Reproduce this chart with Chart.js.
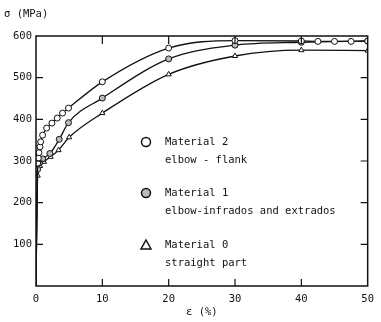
<!DOCTYPE html>
<html>
<head>
<meta charset="utf-8">
<script src="https://cdn.jsdelivr.net/npm/chart.js@4/dist/chart.umd.min.js"></script>
<style>
  html, body { margin: 0; padding: 0; background: #fff; }
  #wrap { width: 381px; height: 322px; position: relative; }
</style>
</head>
<body>
<div id="wrap"><canvas id="chart"></canvas></div>
<script>
// strain (%) / stress (MPa)
const strain2 = [0, 0.1, 0.25, 0.35, 0.45, 0.6, 0.7, 1.0, 1.6, 2.4, 3.2, 4.0, 4.9, 10, 20, 30, 40, 42.5, 45, 47.5, 50];
const stress2 = [0, 150, 295, 307, 320, 334, 346, 362, 379, 391, 403, 415, 427, 490, 571, 589, 588, 587, 587, 587, 588];

const strain1 = [0, 0.1, 0.25, 0.5, 1.0, 2.1, 3.5, 4.9, 10, 20, 30, 40, 50];
const stress1 = [0, 140, 280, 295, 305, 318, 352, 392, 451, 545, 578, 585, 588];

const strain0 = [0, 0.1, 0.25, 0.6, 1.2, 2.2, 3.4, 5.0, 10, 20, 30, 40, 50];
const stress0 = [0, 130, 265, 288, 298, 310, 326, 357, 415, 508, 552, 566, 565];

const seriesNames = ["Material 2", "Material 1", "Material 0"];
const legendNotes = ["elbow - flank", "elbow-infrados and extrados", "straight part"];
const xTicks = [0, 10, 20, 30, 40, 50];
const yTicks = [100, 200, 300, 400, 500, 600];

const FONT = "'DejaVu Sans Mono', monospace";
const INK = "#111";

function pairs(xs, ys) {
    return xs.map((x, i) => ({ x, y: ys[i] }));
}

function lineSet(label, xs, ys, style, fill) {
    return {
        label,
        data: pairs(xs, ys),
        borderColor: INK,
        borderWidth: 1.3,
        pointStyle: style,
        pointBackgroundColor: fill,
        pointBorderColor: INK,
        pointBorderWidth: 1,
        pointRadius: ctx => (ctx.dataIndex < 2 ? 0 : 3),
        cubicInterpolationMode: "monotone",
        fill: false
    };
}

const markerFills = ["#fff", "#bbb", "#fff"];
const markerStyles = ["circle", "circle", "triangle"];

// frame with inward ticks, y axis title and the boxed-in legend
const framePlugin = {
    id: "frame",
    afterDatasetsDraw(chart) {
        const { ctx, chartArea: a, scales } = chart;
        const x = scales.x, y = scales.y;
        ctx.save();
        ctx.strokeStyle = INK;
        ctx.lineWidth = 1.5;
        ctx.strokeRect(a.left, a.top, a.right - a.left, a.bottom - a.top);

        ctx.lineWidth = 1.2;
        ctx.beginPath();
        xTicks.slice(1, -1).forEach(v => {
            const px = x.getPixelForValue(v);
            ctx.moveTo(px, a.bottom); ctx.lineTo(px, a.bottom - 7);
            ctx.moveTo(px, a.top); ctx.lineTo(px, a.top + 8);
        });
        yTicks.slice(0, -1).forEach(v => {
            const py = y.getPixelForValue(v);
            ctx.moveTo(a.left, py); ctx.lineTo(a.left + 7, py);
            ctx.moveTo(a.right, py); ctx.lineTo(a.right - 7, py);
        });
        ctx.stroke();

        ctx.fillStyle = INK;
        ctx.font = "10.5px " + FONT;
        ctx.textBaseline = "middle";
        ctx.textAlign = "left";
        ctx.fillText("σ (MPa)", 4, 14);

        const rows = [106, 157, 209];
        rows.forEach((dy, i) => {
            const mx = a.left + 110, my = a.top + dy;
            ctx.beginPath();
            if (markerStyles[i] === "triangle") {
                ctx.moveTo(mx, my - 5);
                ctx.lineTo(mx + 5, my + 4);
                ctx.lineTo(mx - 5, my + 4);
                ctx.closePath();
            } else {
                ctx.arc(mx, my, 4.5, 0, Math.PI * 2);
            }
            ctx.fillStyle = markerFills[i];
            ctx.fill();
            ctx.lineWidth = 1.5;
            ctx.stroke();
            ctx.fillStyle = INK;
            ctx.fillText(seriesNames[i], a.left + 129, my);
            ctx.fillText(legendNotes[i], a.left + 129, my + 18);
        });
        ctx.restore();
    }
};

new Chart(document.getElementById("chart"), {
    type: "line",
    data: {
        datasets: seriesNames.map((name, i) => {
            const xs = [strain2, strain1, strain0][i];
            const ys = [stress2, stress1, stress0][i];
            return lineSet(name, xs, ys, markerStyles[i], markerFills[i]);
        })
    },
    options: {
        responsive: true,
        maintainAspectRatio: false,
        animation: false,
        layout: { padding: { top: 36, right: 7, left: 0, bottom: 0 } },
        plugins: {
            legend: { display: false },
            tooltip: { enabled: false }
        },
        scales: {
            x: {
                type: "linear",
                min: 0,
                max: 50,
                afterBuildTicks: s => { s.ticks = xTicks.map(v => ({ value: v })); },
                afterFit: s => { s.height = 36; },
                grid: { display: false, drawTicks: false },
                border: { display: false },
                ticks: { padding: 7, color: INK, font: { family: FONT, size: 10.5 } },
                title: {
                    display: true,
                    text: "ε (%)",
                    color: INK,
                    font: { family: FONT, size: 10.5 },
                    padding: { top: 0, bottom: 3 }
                }
            },
            y: {
                min: 0,
                max: 600,
                afterBuildTicks: s => { s.ticks = yTicks.map(v => ({ value: v })); },
                afterFit: s => { s.width = 36; },
                grid: { display: false, drawTicks: false },
                border: { display: false },
                ticks: { padding: 4, color: INK, font: { family: FONT, size: 10.5 } }
            }
        }
    },
    plugins: [framePlugin]
});
</script>
</body>
</html>
